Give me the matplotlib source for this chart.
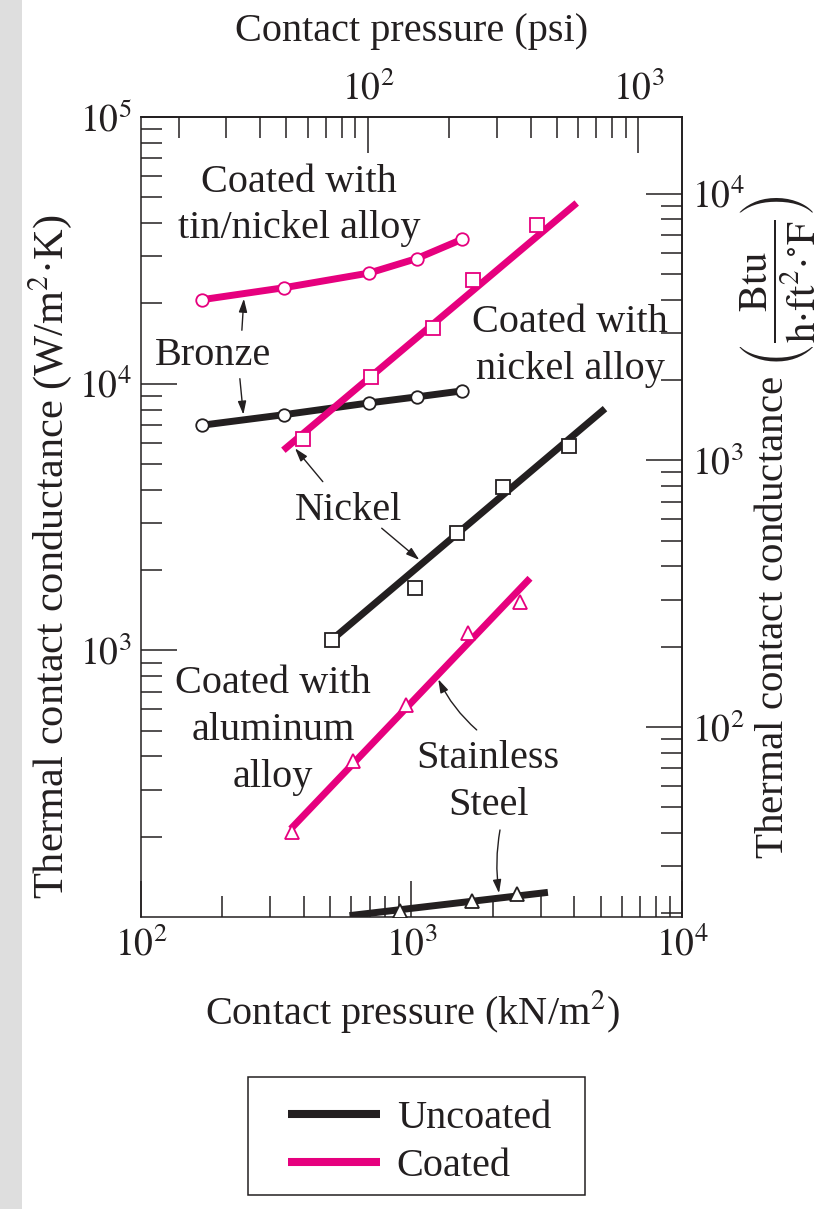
import numpy as np
import matplotlib
matplotlib.use("Agg")
import matplotlib.pyplot as plt
from matplotlib.ticker import FixedLocator, NullFormatter, FuncFormatter
from matplotlib.lines import Line2D
from matplotlib.patches import Rectangle

# ---------------- data ----------------
# contact pressure in kN/m^2, conductance in W/(m^2 K)
bronze_p = [168, 338, 698, 1045, 1533]
bronze_coated_h = [20650, 22900, 26000, 29450, 34740]      # tin/nickel alloy coated
bronze_uncoated_h = [6985, 7650, 8470, 8920, 9390]

nickel_coated_p = [398, 709, 1204, 1684, 2918]
nickel_coated_h = [6220, 10590, 16170, 24540, 39260]
nickel_coated_fit_p = [336, 4081]
nickel_coated_fit_h = [5628, 47580]

nickel_uncoated_p = [507, 1030, 1469, 2173, 3832]
nickel_uncoated_h = [1094, 1710, 2763, 4110, 5840]
nickel_uncoated_fit_p = [507, 5192]
nickel_uncoated_fit_h = [1094, 8060]

steel_coated_p = [361, 609, 954, 1622, 2518]               # aluminum alloy coated
steel_coated_h = [209, 383, 624, 1165, 1523]
steel_coated_fit_p = [358, 2742]
steel_coated_fit_h = [214, 1863]

steel_uncoated_p = [908, 1674, 2455]
steel_uncoated_h = [105.4, 114.8, 122]
steel_uncoated_fit_p = [590, 3194]
steel_uncoated_fit_h = [101.2, 123.7]

legend_labels = ["Uncoated", "Coated"]

# tick values of the four scales
kpa_ticks = [1e2, 1e3, 1e4]
w_ticks = [1e3, 1e4, 1e5]
psi_ticks = [1e2, 1e3]
btu_ticks = [1e2, 1e3, 1e4]

KPA_PER_PSI = 6.895
W_PER_BTU = 5.16   # as drawn on the right-hand scale

# ---------------- style ----------------
plt.rcParams["font.family"] = ["Liberation Serif", "DejaVu Serif"]
plt.rcParams["mathtext.fontset"] = "stix"
INK = "#231F20"
PINK = "#E6007E"
FS = 29
TFS = 27

fig = plt.figure(figsize=(8.28, 12.09), dpi=100)
fig.patches.append(Rectangle((0, 0), 22 / 828, 1, transform=fig.transFigure,
                             facecolor="#dedede", edgecolor="none", zorder=0))
ax = fig.add_axes([141 / 828, 1 - 917 / 1209, 541 / 828, 800 / 1209])
ax.set_xscale("log")
ax.set_yscale("log")
ax.set_xlim(1e2, 1e4)
ax.set_ylim(1e2, 1e5)

LW = 5
mk = dict(markerfacecolor="white", markeredgewidth=1.3, linestyle="none", zorder=4)

# Bronze (connected)
ax.plot(bronze_p, bronze_coated_h, color=PINK, lw=LW, solid_capstyle="butt", zorder=3)
ax.plot(bronze_p, bronze_coated_h, marker="o", ms=9.0, markeredgecolor=PINK, **mk)
ax.plot(bronze_p, bronze_uncoated_h, color=INK, lw=LW, solid_capstyle="butt", zorder=3)
ax.plot(bronze_p, bronze_uncoated_h, marker="o", ms=9.0, markeredgecolor=INK, **mk)

# Nickel
ax.plot(nickel_coated_fit_p, nickel_coated_fit_h, color=PINK, lw=LW, solid_capstyle="butt", zorder=3)
ax.plot(nickel_coated_p, nickel_coated_h, marker="s", ms=9.5, markeredgecolor=PINK, **mk)
ax.plot(nickel_uncoated_fit_p, nickel_uncoated_fit_h, color=INK, lw=LW, solid_capstyle="butt", zorder=3)
ax.plot(nickel_uncoated_p, nickel_uncoated_h, marker="s", ms=9.5, markeredgecolor=INK, **mk)

# Stainless steel
ax.plot(steel_coated_fit_p, steel_coated_fit_h, color=PINK, lw=LW, solid_capstyle="butt", zorder=3)
ax.plot(steel_coated_p, steel_coated_h, marker="^", ms=10.5, markeredgecolor=PINK, **mk)
ax.plot(steel_uncoated_fit_p, steel_uncoated_fit_h, color=INK, lw=LW, solid_capstyle="butt", zorder=3)
ax.plot(steel_uncoated_p, steel_uncoated_h, marker="^", ms=10.5, markeredgecolor=INK, **mk)

# ---------------- axes / ticks ----------------
for s in ax.spines.values():
    s.set_linewidth(1.1)
    s.set_color(INK)


def pow_fmt(v, _):
    return r"$10^{%d}$" % int(round(np.log10(v)))


def minors(lo, hi):
    vals = np.outer(10.0 ** np.arange(0, 7), np.arange(2, 10)).ravel()
    return [v for v in vals if lo < v < hi]


tick_kw_major = dict(which="major", direction="in", length=26, width=1.1, color=INK,
                     labelsize=TFS, labelcolor=INK, pad=7)
tick_kw_minor = dict(which="minor", direction="in", length=15, width=1.1, color=INK)

ax.xaxis.set_major_locator(FixedLocator(kpa_ticks))
ax.xaxis.set_minor_locator(FixedLocator(minors(1e2, 1e4)))
ax.xaxis.set_major_formatter(FuncFormatter(pow_fmt))
ax.xaxis.set_minor_formatter(NullFormatter())
ax.yaxis.set_major_locator(FixedLocator(w_ticks))
ax.yaxis.set_minor_locator(FixedLocator(minors(1e2, 1e5)))
ax.yaxis.set_major_formatter(FuncFormatter(pow_fmt))
ax.yaxis.set_minor_formatter(NullFormatter())
ax.tick_params(axis="both", **tick_kw_major)
ax.tick_params(axis="both", **tick_kw_minor)

# top axis in psi
secx = ax.secondary_xaxis("top", functions=(lambda x: x / KPA_PER_PSI, lambda x: x * KPA_PER_PSI))
secx.xaxis.set_major_locator(FixedLocator(psi_ticks))
secx.xaxis.set_minor_locator(FixedLocator(minors(1e2 / KPA_PER_PSI, 1e4 / KPA_PER_PSI)))
secx.xaxis.set_major_formatter(FuncFormatter(pow_fmt))
secx.xaxis.set_minor_formatter(NullFormatter())
secx.tick_params(axis="x", **tick_kw_major)
secx.tick_params(axis="x", **tick_kw_minor)
secx.spines["top"].set_linewidth(1.1)

# right axis in Btu/(h ft^2 F)
secy = ax.secondary_yaxis("right", functions=(lambda y: y / W_PER_BTU, lambda y: y * W_PER_BTU))
secy.yaxis.set_major_locator(FixedLocator(btu_ticks))
secy.yaxis.set_minor_locator(FixedLocator(minors(1e2 / W_PER_BTU, 1e5 / W_PER_BTU)))
secy.yaxis.set_major_formatter(FuncFormatter(pow_fmt))
secy.yaxis.set_minor_formatter(NullFormatter())
secy.tick_params(axis="y", **tick_kw_major)
secy.tick_params(axis="y", **tick_kw_minor)
secy.spines["right"].set_linewidth(1.1)

# axis labels (positions given in the main axes' coordinates)
ax.set_xlabel(r"Contact pressure (kN/m$^2$)", fontsize=FS, color=INK, va="baseline")
ax.xaxis.set_label_coords(0.501, -0.134, transform=ax.transAxes)
secx.set_xlabel("Contact pressure (psi)", fontsize=FS, color=INK, va="baseline")
secx.xaxis.set_label_coords(0.501, 1.095, transform=ax.transAxes)
ax.set_ylabel(r"Thermal contact conductance (W/m$^2$·K)", fontsize=30.5, color=INK,
              rotation=90, ha="center", va="center", rotation_mode="default")
ax.yaxis.set_label_coords(-0.168, 0.45, transform=ax.transAxes)
secy.set_ylabel(r"Thermal contact conductance $\left(\dfrac{\mathrm{Btu}}{\mathrm{h{\cdot}ft^{2}{\cdot}{}^{\circ}F}}\right)$",
                fontsize=29.5, color=INK, rotation=90, ha="center", va="center", rotation_mode="default")
secy.yaxis.set_label_coords(1.176, 0.4875, transform=ax.transAxes)

# ---------------- annotations ----------------
def txt(s, x, y):
    ax.text(x, y, s, fontsize=FS, color=INK, ha="center", va="baseline", zorder=5)


def arrow(tail, head, rad=0.0):
    ax.annotate("", xy=head, xytext=tail,
                arrowprops=dict(arrowstyle="-|>,head_length=0.8,head_width=0.25",
                                color=INK, lw=1.0, shrinkA=0, shrinkB=0,
                                connectionstyle="arc3,rad=%g" % rad), zorder=5)


txt("Coated with", 384, 52330)
txt("tin/nickel alloy", 384, 35180)
txt("Bronze", 184, 11750)
arrow((236, 15860), (240, 20830))
arrow((232, 10440), (239, 7652))
txt("Coated with", 3855, 15620)
txt("nickel alloy", 3855, 10450)
txt("Nickel", 584, 3083)
arrow((470, 4291), (371, 5725))
arrow((776, 2870), (1069, 2183))
txt("Coated with", 308, 692)
txt("aluminum", 308, 461.5)
txt("alloy", 308, 307.5)
txt("Stainless", 1918, 362)
txt("Steel", 1918, 241.4)
arrow((1742, 503), (1256, 779), rad=-0.1)
arrow((2124, 212), (2106, 122.8), rad=0.08)

# ---------------- legend ----------------
handles = [Line2D([], [], color=INK, lw=5.8, solid_capstyle="butt"),
           Line2D([], [], color=PINK, lw=5.8, solid_capstyle="butt")]
fig.legend(handles, legend_labels, loc="center left",
           bbox_to_anchor=(288 / 828, 1 - 1142.5 / 1209), frameon=False,
           fontsize=FS, handlelength=2.28, handletextpad=0.42, borderpad=0,
           borderaxespad=0, labelspacing=0.25, labelcolor=INK)
fig.patches.append(Rectangle((248 / 828, 1 - 1195 / 1209), 337 / 828, 118 / 1209,
                             transform=fig.transFigure, fill=False, edgecolor=INK, lw=1.1))

fig.savefig("out.png", dpi=100)
